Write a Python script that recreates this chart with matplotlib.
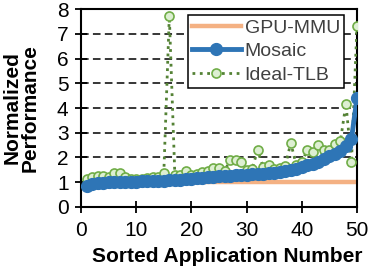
import matplotlib
matplotlib.use("Agg")
import matplotlib.pyplot as plt
import numpy as np

plt.rcParams["font.family"] = ["Liberation Sans", "DejaVu Sans"]

# Sorted application number 1..50
apps = list(range(1, 51))

gpu_mmu = [1.0] * 50

mosaic = [0.85, 0.93, 0.96, 0.98, 0.99, 1.00, 1.01, 1.02, 1.02, 1.03,
          1.04, 1.05, 1.05, 1.06, 1.07, 1.08, 1.09, 1.10, 1.12, 1.14,
          1.16, 1.18, 1.21, 1.23, 1.24, 1.25, 1.27, 1.28, 1.29, 1.30,
          1.32, 1.33, 1.35, 1.37, 1.39, 1.41, 1.44, 1.48, 1.53, 1.60,
          1.68, 1.75, 1.82, 1.95, 2.05, 2.15, 2.28, 2.45, 2.75, 4.40]

ideal_tlb = [1.12, 1.20, 1.25, 1.25, 1.20, 1.36, 1.36, 1.20, 1.15, 1.15,
             1.15, 1.18, 1.20, 1.22, 1.36, 7.72, 1.30, 1.30, 1.46, 1.30,
             1.35, 1.40, 1.46, 1.57, 1.58, 1.45, 1.89, 1.89, 1.82, 1.50,
             1.55, 2.29, 1.62, 1.69, 1.55, 1.58, 1.65, 2.59, 1.70, 1.80,
             2.32, 2.23, 2.49, 2.32, 2.29, 2.56, 2.67, 4.17, 1.82, 7.30]

fig = plt.figure(figsize=(3.74, 2.69), dpi=100)
ax = fig.add_axes([0.2166, 0.2305, 0.7379, 0.736])

# horizontal dashed grid
for yv in range(1, 8):
    ax.axhline(yv, color="black", linestyle=(0, (5, 2.8)), linewidth=1.1, zorder=1)

ax.plot(apps, gpu_mmu, color="#F4B183", linewidth=3.2, label="GPU-MMU", zorder=2)
ax.plot(apps, ideal_tlb, color="#548235", linestyle=":", linewidth=2.0,
        marker="o", markersize=6.5, markerfacecolor="#DDEFD2",
        markeredgecolor="#70AD47", markeredgewidth=1.2,
        label="Ideal-TLB", zorder=3)
ax.plot(apps, mosaic, color="#2E75B6", linewidth=3.5, marker="o",
        markersize=8.5, label="Mosaic", zorder=4)

ax.set_xlim(0, 50)
ax.set_ylim(0, 8)
ax.set_xticks([0, 10, 20, 30, 40, 50])
ax.set_yticks(range(0, 9))
ax.tick_params(axis="both", direction="inout", length=8, width=1.3,
               labelsize=15)
ax.tick_params(axis="x", pad=6)
ax.tick_params(axis="y", pad=5)
for sp in ax.spines.values():
    sp.set_linewidth(1.5)

ax.set_xlabel("Sorted Application Number", fontsize=15, fontweight="bold")
ax.xaxis.set_label_coords(0.53, -0.2)
ax.set_ylabel("Normalized\nPerformance", fontsize=15, fontweight="bold",
              linespacing=0.9)
ax.yaxis.set_label_coords(-0.15, 0.5)

handles, labels = ax.get_legend_handles_labels()
order = [0, 2, 1]
leg = ax.legend([handles[i] for i in order], [labels[i] for i in order],
                loc="upper right", bbox_to_anchor=(0.952, 0.968),
                fontsize=14, frameon=True, fancybox=False, framealpha=1,
                edgecolor="black", handlelength=2.5, borderpad=0.2,
                labelspacing=0.3, handletextpad=0.2, borderaxespad=0.0)
leg.get_frame().set_linewidth(1.1)
for t in leg.get_texts():
    t.set_color("#404040")

fig.savefig("out.png", dpi=100)
